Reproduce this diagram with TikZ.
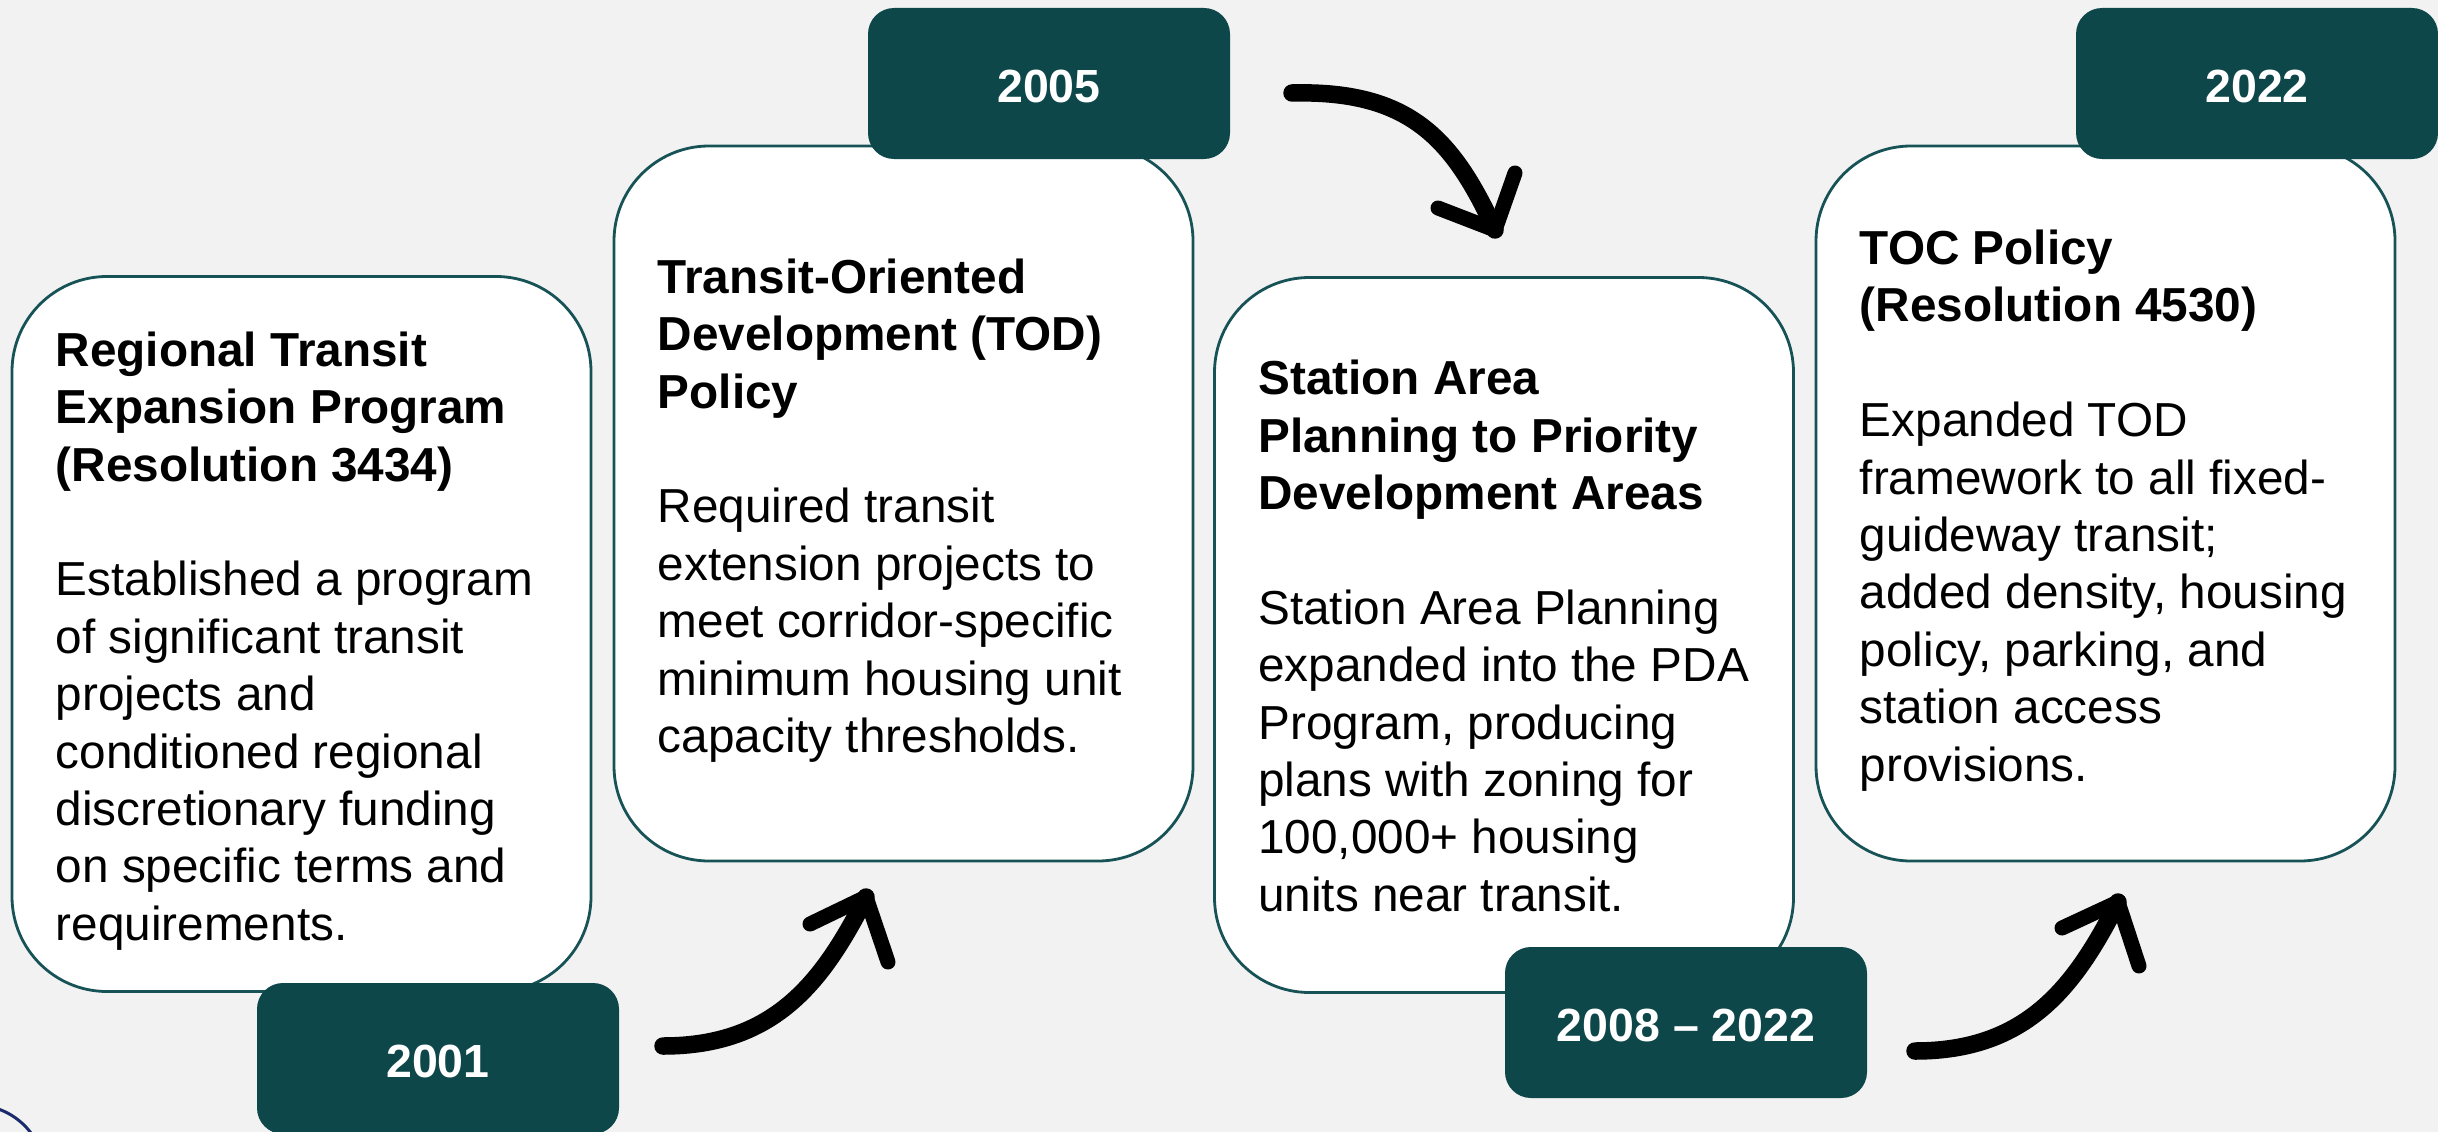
\documentclass[tikz,border=0pt]{standalone}
\usepackage{fontspec}
\setmainfont{Liberation Sans}
\definecolor{bgc}{HTML}{F2F2F2}
\definecolor{teal}{HTML}{0E474A}
\definecolor{tealline}{HTML}{175356}
\definecolor{navy}{HTML}{1B2A6B}
\begin{document}
\begin{tikzpicture}[x=1pt,y=-1pt,
  card/.style={draw=tealline, line width=2.8pt, fill=white, rounded corners=95pt,
    minimum width=579pt, minimum height=715pt, inner sep=0pt},
  txt/.style={anchor=west, align=left, inner sep=0pt, text=black,
    font=\fontsize{47.7}{57.4}\selectfont},
  badge/.style={fill=teal, rounded corners=26pt, minimum width=362pt,
    minimum height=151pt, inner sep=0pt, text=white, text height=39pt,
    font=\fontsize{46.5}{56}\selectfont\bfseries},
  shaft/.style={line width=17.5pt, line cap=round, draw=black},
  barb/.style={line width=15pt, line cap=round, line join=round, draw=black}]
\useasboundingbox (0,0) rectangle (2438,1132);
\fill[bgc] (0,0) rectangle (2438,1132);
\begin{scope}
\clip (0,0) rectangle (2438,1132);
\draw[navy, line width=3pt] (-25,1175) circle[radius=70];
\end{scope}

% cards
\node[card] (c1) at (301.5,634) {};
\node[card] (c2) at (903.5,503.5) {};
\node[card] (c3) at (1504,635) {};
\node[card] (c4) at (2105.5,503.5) {};

\node[txt] (t1) at ([xshift=45pt,yshift=-7pt]c1.west) {\textbf{Regional Transit}\\\textbf{Expansion Program}\\\textbf{(Resolution 3434)}\\[57.4pt]Established a program\\of significant transit\\projects and\\conditioned regional\\discretionary funding\\on specific terms and\\requirements.};
\node[txt] (t2) at ([xshift=45pt,yshift=-7pt]c2.west) {\textbf{Transit-Oriented}\\\textbf{Development (TOD)}\\\textbf{Policy}\\[57.4pt]Required transit\\extension projects to\\meet corridor-specific\\minimum housing unit\\capacity thresholds.};
\node[txt] (t3) at ([xshift=45pt,yshift=-1pt]c3.west) {\textbf{Station Area}\\\textbf{Planning to Priority}\\\textbf{Development Areas}\\[57.4pt]Station Area Planning\\expanded into the PDA\\Program, producing\\plans with zoning for\\100,000+ housing\\units near transit.};
\node[txt] (t4) at ([xshift=45pt,yshift=-7pt]c4.west) {\textbf{TOC Policy}\\\textbf{(Resolution 4530)}\\[57.4pt]Expanded TOD\\framework to all fixed-\\guideway transit;\\added density, housing\\policy, parking, and\\station access\\provisions.};

% badges
\node[badge] (b1) at (438,1058.5) {2001};
\node[badge] (b2) at (1049,83.5) {2005};
\node[badge] (b3) at (1686,1022.5) {2008 -- 2022};
\node[badge] (b4) at (2257,83.5) {2022};

% arrows
\coordinate (a1s) at (663,1046);
\coordinate (a1t) at (866,897);
\coordinate (a1l) at (810,924);
\coordinate (a1r) at (888,962);
\draw[shaft] (a1s) .. controls (775,1046) and (823,981.5) .. (a1t);
\draw[barb] (a1l) -- (a1t) -- (a1r);

\coordinate (a2s) at (1292,93);
\coordinate (a2t) at (1495,230);
\coordinate (a2l) at (1438,208);
\coordinate (a2r) at (1515,173);
\draw[shaft] (a2s) .. controls (1410,90) and (1453,139) .. (a2t);
\draw[barb] (a2l) -- (a2t) -- (a2r);

\coordinate (a3s) at (1915,1051);
\coordinate (a3t) at (2118,902);
\coordinate (a3l) at (2062,928);
\coordinate (a3r) at (2139,966);
\draw[shaft] (a3s) .. controls (2027,1051) and (2075,986.5) .. (a3t);
\draw[barb] (a3l) -- (a3t) -- (a3r);
\end{tikzpicture}
\end{document}
